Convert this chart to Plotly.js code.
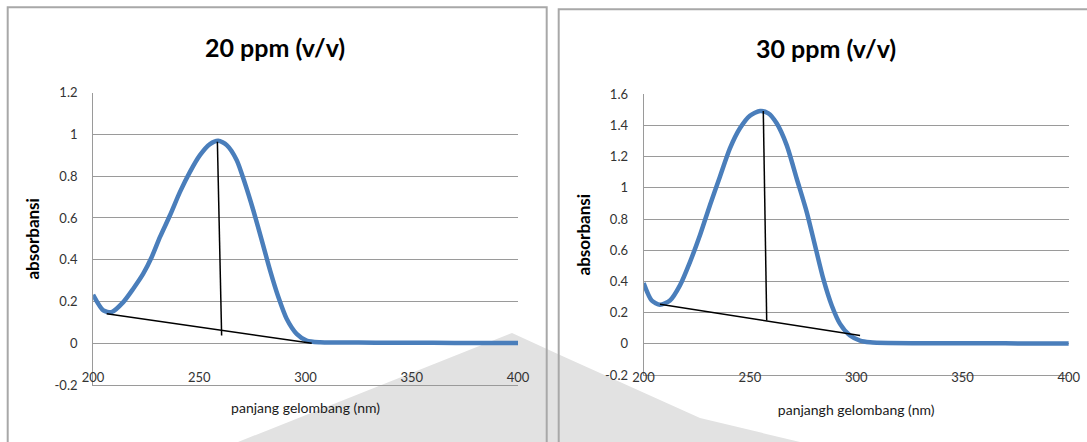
<!DOCTYPE html>
<html>
<head>
<meta charset="utf-8">
<script src="https://cdn.plot.ly/plotly-3.0.1.min.js"></script>
<style>html,body{margin:0;padding:0;background:#fff;}#chart{width:1087px;height:442px;}</style>
</head>
<body>
<div id="chart"></div>
<script>
// ---- 20 ppm (v/v) spectrum ----
const wavelength20 = [200,204.8,208.7,214.2,218.9,223.6,227.6,231.5,236.2,240.9,245.6,250.3,255,258.9,262.9,267.6,271.5,275.4,279.4,283.3,287.2,291.1,295.8,300.5,306.8,315,325,340,360,380,400];
const absorb20 = [0.232,0.157,0.149,0.197,0.261,0.333,0.413,0.509,0.613,0.725,0.821,0.901,0.954,0.970,0.949,0.877,0.765,0.637,0.493,0.349,0.221,0.117,0.045,0.013,0.005,0.004,0.003,0.002,0.002,0.001,0.001];
const baseline20X = [206.4, 302.9];
const baseline20Y = [0.141, 0.0];
const peakLine20X = [258.5, 260.5];
const peakLine20Y = [0.965, 0.037];

// ---- 30 ppm (v/v) spectrum ----
const wavelength30 = [200,203.8,207.7,212.4,217.1,221.8,226.5,231.2,235.9,240.6,245.3,250,254.8,258.7,262.6,267.3,272,276.7,280.6,284.5,288.5,292.4,297.1,301.8,306.5,315,330,350,370,390,400];
const absorb30 = [0.39,0.278,0.251,0.278,0.375,0.524,0.696,0.889,1.071,1.253,1.382,1.463,1.493,1.478,1.414,1.274,1.06,0.846,0.632,0.418,0.246,0.128,0.053,0.021,0.01,0.005,0.004,0.003,0.003,0.002,0.002];
const baseline30X = [207.7, 301.8];
const baseline30Y = [0.253, 0.053];
const peakLine30X = [256.3, 257.9];
const peakLine30Y = [1.493, 0.15];

// ---- labels ----
const title20 = "20 ppm (v/v)";
const title30 = "30 ppm (v/v)";
const yTitle = "absorbansi";
const xTitle20 = "panjang gelombang (nm)";
const xTitle30 = "panjangh gelombang (nm)";
const xTickVals = [200, 250, 300, 350, 400];
const yTickVals20 = [-0.2, 0, 0.2, 0.4, 0.6, 0.8, 1, 1.2];
const yTickVals30 = [-0.2, 0, 0.2, 0.4, 0.6, 0.8, 1, 1.2, 1.4, 1.6];

const W = 1087, H = 442;
const px = v => v / W;
const py = v => 1 - v / H;

const blue = '#4a7ebb';
const grid = '#9a9a9a';
const FONT = 'Lato, "Open Sans", sans-serif';

const curveLine = {color: blue, width: 4.5, shape: 'spline', smoothing: 0.7};
const blackLine = {color: '#000', width: 1.5};

const traces = [
  {x: wavelength20, y: absorb20, xaxis: 'x', yaxis: 'y', mode: 'lines', line: curveLine, hoverinfo: 'skip'},
  {x: baseline20X, y: baseline20Y, xaxis: 'x', yaxis: 'y', mode: 'lines', line: blackLine, hoverinfo: 'skip'},
  {x: peakLine20X, y: peakLine20Y, xaxis: 'x', yaxis: 'y', mode: 'lines', line: blackLine, hoverinfo: 'skip'},
  {x: wavelength30, y: absorb30, xaxis: 'x2', yaxis: 'y2', mode: 'lines', line: curveLine, hoverinfo: 'skip'},
  {x: baseline30X, y: baseline30Y, xaxis: 'x2', yaxis: 'y2', mode: 'lines', line: blackLine, hoverinfo: 'skip'},
  {x: peakLine30X, y: peakLine30Y, xaxis: 'x2', yaxis: 'y2', mode: 'lines', line: blackLine, hoverinfo: 'skip'}
];

const tickFont = {family: FONT, size: 13, color: '#333333'};
const axTitleFont = {family: FONT, size: 14, color: '#1a1a1a'};
const yTitleFont = {family: FONT, size: 17, color: '#000', weight: 'bold'};

function xAxis(domain, anchor, standoff, title, tstand) {
  return {
    domain: domain, anchor: anchor, range: [200, 400], tickvals: xTickVals, ticktext: xTickVals.map(String),
    showgrid: false, zeroline: false, showline: true, linecolor: grid, linewidth: 1,
    ticks: '', tickfont: tickFont, ticklabelstandoff: standoff, fixedrange: true,
    title: {text: title, font: axTitleFont, standoff: tstand}
  };
}
function yAxis(domain, anchor, range, vals) {
  return {
    domain: domain, anchor: anchor, range: range, tickvals: vals, ticktext: vals.map(String),
    showgrid: true, gridcolor: grid, gridwidth: 1, zeroline: false,
    showline: true, linecolor: grid, linewidth: 1,
    ticks: '', tickfont: tickFont, ticklabelstandoff: 12, fixedrange: true,
    title: {text: yTitle, font: yTitleFont, standoff: 10}
  };
}

const layout = {
  width: W, height: H,
  margin: {l: 0, r: 0, t: 0, b: 0},
  paper_bgcolor: '#ffffff', plot_bgcolor: 'rgba(0,0,0,0)',
  showlegend: false,
  font: {family: FONT},
  xaxis: xAxis([px(93.1), px(518)], 'y', -20, xTitle20, 19),
  yaxis: yAxis([py(385), py(92.7)], 'x', [-0.2, 1.2], yTickVals20),
  xaxis2: xAxis([px(643.6), px(1068.8)], 'y2', -10, xTitle30, 21),
  yaxis2: yAxis([py(375), py(94.3)], 'x2', [-0.2, 1.6], yTickVals30),
  annotations: [
    {text: '<b>' + title20 + '</b>', xref: 'paper', yref: 'paper', x: px(274.8), y: py(47), xanchor: 'center', yanchor: 'middle', showarrow: false, font: {family: FONT, size: 25, color: '#000'}},
    {text: '<b>' + title30 + '</b>', xref: 'paper', yref: 'paper', x: px(825.6), y: py(48), xanchor: 'center', yanchor: 'middle', showarrow: false, font: {family: FONT, size: 25, color: '#000'}}
  ],
  shapes: [
    // faint watermark behind the charts
    {type: 'path', xref: 'paper', yref: 'paper', layer: 'below', line: {width: 0}, fillcolor: '#e2e2e2',
     path: 'M ' + px(512) + ' ' + py(333) + ' L ' + px(560) + ' ' + py(355) + ' L ' + px(700) + ' ' + py(418) + ' L ' + px(800) + ' ' + py(442) + ' L ' + px(238) + ' ' + py(442) + ' Z'},
    // chart frames
    {type: 'rect', xref: 'paper', yref: 'paper', x0: px(7.7), x1: px(546.7), y0: -0.1, y1: py(7.3), line: {color: '#a8a8a8', width: 2}, layer: 'below'},
    {type: 'rect', xref: 'paper', yref: 'paper', x0: px(558.7), x1: 1.1, y0: -0.1, y1: py(9.3), line: {color: '#a8a8a8', width: 2}, layer: 'below'}
  ]
};

Plotly.newPlot('chart', traces, layout, {displayModeBar: false, staticPlot: true});
</script>
</body>
</html>
